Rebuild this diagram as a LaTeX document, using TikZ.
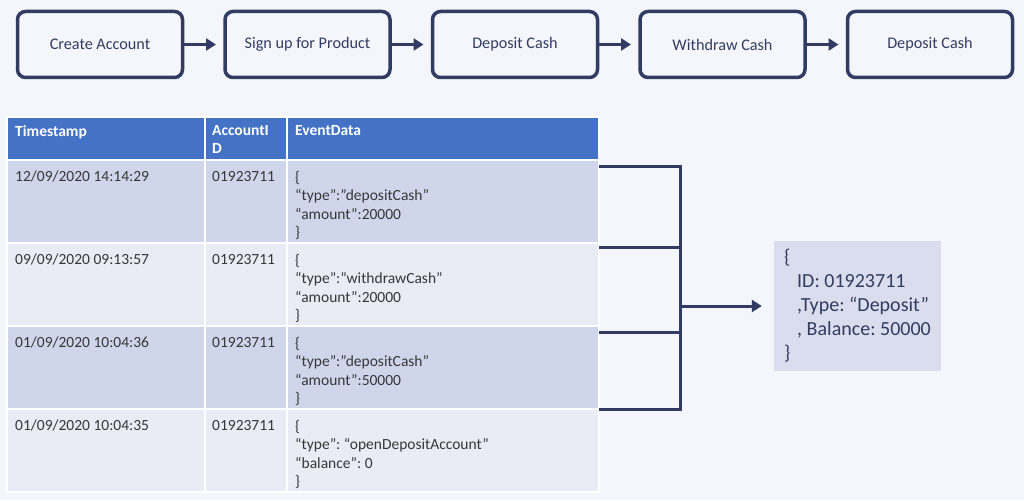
\documentclass[tikz,border=0pt]{standalone}
\usepackage{fontspec}
\setmainfont{Carlito}
\frenchspacing
\usetikzlibrary{positioning,arrows.meta}
\definecolor{paper}{HTML}{F4F6FB}
\definecolor{navy}{HTML}{323C62}
\definecolor{hdrblue}{HTML}{4472C4}
\definecolor{rowdark}{HTML}{CFD5EA}
\definecolor{rowlight}{HTML}{E9EBF5}
\definecolor{statefill}{HTML}{DADDEE}
\definecolor{celltext}{HTML}{383838}

\begin{document}
\begin{tikzpicture}[x=1pt,y=-1pt,
        stage/.style={draw=navy, line width=3.5pt, rounded corners=8pt, minimum width=165pt,
            minimum height=66pt, inner sep=0pt, outer sep=0pt, text=navy,
            font=\fontsize{16.2}{18}\selectfont},
        flow/.style={navy, line width=3pt, -{Triangle[length=10pt,width=12pt]}, shorten >=9pt},
        band/.style={draw=white, line width=1.5pt, minimum width=592pt, minimum height=83pt,
            inner sep=0pt, outer sep=0pt},
        cell/.style={anchor=north west, inner sep=0pt, align=left, text=celltext,
            font=\fontsize{15.5}{18.5}\selectfont},
        hcell/.style={cell, text=white, font=\bfseries\fontsize{15.5}{18.5}\selectfont},
        link/.style={navy, line width=3pt},
    ]
        \useasboundingbox[fill=paper] (0,0) rectangle (1024,500);

        % process steps
        \node[stage] (create) at (100,44.5) {Create Account};
        \node[stage, right=42.5pt of create] (signup) {Sign up for Product};
        \node[stage, right=42.5pt of signup] (deposit1) {Deposit Cash};
        \node[stage, right=42.5pt of deposit1] (withdraw) {Withdraw Cash};
        \node[stage, right=42.5pt of withdraw] (deposit2) {Deposit Cash};

        \draw[flow] (create) -- (signup);
        \draw[flow] (signup) -- (deposit1);
        \draw[flow] (deposit1) -- (withdraw);
        \draw[flow] (withdraw) -- (deposit2);

        % event table
        \node[band, fill=hdrblue, minimum height=43pt, anchor=north west] (head) at (7,117) {};
        \node[band, fill=rowdark, below=0pt of head] (r1) {};
        \node[band, fill=rowlight, below=0pt of r1] (r2) {};
        \node[band, fill=rowdark, below=0pt of r2] (r3) {};
        \node[band, fill=rowlight, below=0pt of r3] (r4) {};
        \draw[white, line width=2pt] ([xshift=198pt]head.north west) -- ([xshift=198pt]r4.south west);
        \draw[white, line width=2pt] ([xshift=280pt]head.north west) -- ([xshift=280pt]r4.south west);

        \node[hcell] (hts) at ([xshift=8pt,yshift=-8pt]head.north west) {Timestamp};
        \node[hcell] (hid) at ([xshift=205pt,yshift=-8pt]head.north west) {AccountI\\D};
        \node[hcell] (hev) at ([xshift=288pt,yshift=-8pt]head.north west) {EventData};

        \node[cell] (ts1) at ([xshift=8pt,yshift=-11pt]r1.north west) {12/09/2020 14:14:29};
        \node[cell] (id1) at ([xshift=205pt,yshift=-11pt]r1.north west) {01923711};
        \node[cell] (ev1) at ([xshift=288pt,yshift=-11pt]r1.north west)
            {\{\\“type”:”depositCash”\\“amount”:20000\\\}};

        \node[cell] (ts2) at ([xshift=8pt,yshift=-11pt]r2.north west) {09/09/2020 09:13:57};
        \node[cell] (id2) at ([xshift=205pt,yshift=-11pt]r2.north west) {01923711};
        \node[cell] (ev2) at ([xshift=288pt,yshift=-11pt]r2.north west)
            {\{\\“type”:”withdrawCash”\\“amount”:20000\\\}};

        \node[cell] (ts3) at ([xshift=8pt,yshift=-11pt]r3.north west) {01/09/2020 10:04:36};
        \node[cell] (id3) at ([xshift=205pt,yshift=-11pt]r3.north west) {01923711};
        \node[cell] (ev3) at ([xshift=288pt,yshift=-11pt]r3.north west)
            {\{\\“type”:”depositCash”\\“amount”:50000\\\}};

        \node[cell] (ts4) at ([xshift=8pt,yshift=-11pt]r4.north west) {01/09/2020 10:04:35};
        \node[cell] (id4) at ([xshift=205pt,yshift=-11pt]r4.north west) {01923711};
        \node[cell] (ev4) at ([xshift=288pt,yshift=-11pt]r4.north west)
            {\{\\“type”: “openDepositAccount”\\“balance”: 0\\\}};

        % resulting state
        \node[fill=statefill, minimum width=167pt, minimum height=130pt, inner sep=0pt,
            align=left, text=navy, font=\fontsize{20}{24}\selectfont] (state) at (857.5,306)
            {\{\\\hspace*{13pt}ID: 01923711\\\hspace*{13pt},Type: “Deposit”\\\hspace*{13pt}, Balance: 50000\\\}};

        % replay connector
        \coordinate[right=81pt of r1.east] (busx);
        \coordinate (bus) at (busx |- state.west);
        \draw[link] ([yshift=-6pt]r1.north east) -| (busx |- r3.south east) -- (r3.south east);
        \draw[link] ([yshift=-4pt]r2.north east) -- ++(81,0);
        \draw[link] ([yshift=-6pt]r3.north east) -- ++(81,0);
        \draw[flow, shorten >=12pt] (bus) -- (state);
\end{tikzpicture}
\end{document}
